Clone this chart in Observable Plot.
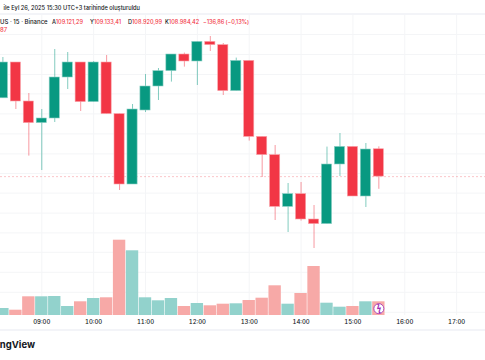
<!DOCTYPE html>
<html>
<head>
<meta charset="utf-8">
<script src="https://cdn.jsdelivr.net/npm/d3@7"></script>
<script src="https://cdn.jsdelivr.net/npm/@observablehq/plot@0.6"></script>
<style>
html,body{margin:0;padding:0;background:#fff;overflow:hidden}
#wrap{position:relative;width:485px;height:360px;overflow:hidden;font-family:Inter,"Noto Sans",sans-serif}
#wrap svg{position:absolute;left:0;top:0;background:transparent}
.t{position:absolute;white-space:nowrap;font-size:6px;line-height:8px;color:#131722}
.n{font-size:5.6px;font-weight:500;top:18px}
.r{color:#f23645}
.b{position:absolute;left:0;width:485px;height:2px;background:#f3f4f8}
</style>
</head>
<body>
<div id="wrap"></div>
<script>
const times = ["08:15","08:30","08:45","09:00","09:15","09:30","09:45","10:00","10:15","10:30","10:45","11:00","11:15","11:30","11:45","12:00","12:15","12:30","12:45","13:00","13:15","13:30","13:45","14:00","14:15","14:30","14:45","15:00","15:15","15:30"];
const opens  = [109376,109555,109360,109252,109275,109480,109555,109357,109555,109297,108945,109315,109435,109512,109595,109560,109658,109642,109412,109563,109183,109092,108833,108897,108770,108747,109045,109133,108885,109121.29];
const closes = [109555,109360,109252,109275,109480,109555,109357,109555,109297,108945,109320,109435,109512,109595,109560,109658,109642,109412,109563,109183,109092,108833,108897,108770,108747,109045,109133,108885,109120,108984.42];
const highs  = [109580,109555,109400,109320,109620,109605,109555,109560,109590,109297,109345,109495,109525,109595,109602,109658,109685,109650,109577,109563,109183,109140,108950,108955,108840,109132,109200,109133,109150,109133.41];
const lows   = [109376,109320,109087,109015,109255,109420,109310,109357,109297,108915,108945,109305,109365,109457,109532,109440,109610,109390,109412,109162,108980,108765,108705,108762,108625,108747,108985,108885,108830,108920.99];
const volumes = [7,5.3,18.7,18.7,19,9,13.7,17,17.7,75.3,64.7,17.7,14.7,17,9,12,9.7,11.3,11.7,15,17.3,29.7,11.3,22,49,12.3,8.3,9,13.7,13.7];
const hourLabels = ["09:00","10:00","11:00","12:00","13:00","14:00","15:00","16:00","17:00"];
const gridPrices = [109695,109595,109495,109398,109298,109198,109098,109000,108902,108802,108703,108606,108506,108406,108306];
const lastClose = 108984.42;

const UP = "#089981", DOWN = "#f23645", UPV = "#92d2cc", DOWNV = "#f7a9a7", GRID = "#f4f5f7";
const D = s => new Date(`2025-09-26T${s}:00Z`);
const xDomain = [new Date(Date.UTC(2025,8,26,8,12,13)), new Date(Date.UTC(2025,8,26,17,33,24))];
const half = 7.5 * 60000;
const rows = times.map((s,i)=>({t:D(s),o:opens[i],c:closes[i],h:highs[i],l:lows[i],v:volumes[i],
  x1:new Date(+D(s)-half),x2:new Date(+D(s)+half),up:closes[i]>=opens[i]}));
const hours = hourLabels.map(D);
const xOpt = {type:"utc",domain:xDomain,range:[0,485]};

const price = Plot.plot({
  width:485,height:360,margin:0,
  x:{...xOpt,axis:null},
  y:{domain:[108065,109865],range:[360,0],axis:null},
  marks:[
    Plot.ruleY(gridPrices,{stroke:GRID,strokeWidth:1}),
    Plot.ruleX(hours,{y1:109795,y2:108290,stroke:GRID,strokeWidth:1}),
    Plot.ruleY([lastClose],{stroke:DOWN,strokeOpacity:0.28,strokeWidth:1,strokeDasharray:"2,2"}),
    Plot.ruleX(rows,{x:"t",y1:"l",y2:"h",stroke:d=>d.up?UP:DOWN,strokeOpacity:0.5,strokeWidth:1}),
    Plot.rect(rows,{x1:"x1",x2:"x2",y1:"o",y2:"c",fill:d=>d.up?UP:DOWN,stroke:d=>d.up?"#8fd0c6":"#f9a3aa",strokeWidth:0.6,insetLeft:1.4,insetRight:1.4})
  ]
});

const vol = Plot.plot({
  width:485,height:360,marginTop:0,marginLeft:0,marginRight:0,marginBottom:45,
  x:{...xOpt},
  y:{domain:[0,315],range:[315,0],axis:null},
  marks:[
    Plot.rect(rows,{x1:"x1",x2:"x2",y1:0,y2:"v",fill:d=>d.up?UPV:DOWNV,insetLeft:0.3,insetRight:0.3}),
    Plot.axisX({ticks:hours,tickFormat:d3.utcFormat("%H:%M"),tickSize:0,tickPadding:4,fontSize:6,fontWeight:500,fill:"#131722",label:null,fontFamily:"Inter"}),
    Plot.dot(rows.slice(-1),{x:"t",y:d=>d.v/2,r:5,fill:"#fff",stroke:"#9c27b0",strokeWidth:0.8}),
    Plot.text(rows.slice(-1),{x:"t",y:d=>d.v/2,text:()=>"ϟ",fill:"#9c27b0",fontSize:8,fontWeight:700})
  ]
});

const wrap = document.getElementById("wrap");
wrap.append(price, vol);
wrap.insertAdjacentHTML("beforeend",`
 <div class="t" style="right:345px;top:4px;font-weight:500;font-size:5.7px">ile Eyl 26, 2025 15:30 UTC+3 tarihinde oluşturuldu</div>
 <div class="b" style="top:13px"></div>
 <div class="b" style="top:329px"></div>
 <div class="t" style="left:0;top:18px;font-weight:500">US · 15 · Binance</div>
 <div class="t n" style="left:52px">A<span class="r">109.121,29</span></div>
 <div class="t n" style="left:90px">Y<span class="r">109.133,41</span></div>
 <div class="t n" style="left:128px">D<span class="r">108.920,99</span></div>
 <div class="t n" style="left:165px">K<span class="r">108.984,42</span></div>
 <div class="t n r" style="left:203px;letter-spacing:-0.05px">−136,86 (−0,13%)</div>
 <div class="t r" style="left:0;top:26px;font-weight:500">87</div>
 <div class="t" style="right:450px;top:339px;font-size:9.5px;line-height:12px;font-weight:700">ngView</div>
`);
</script>
</body>
</html>
